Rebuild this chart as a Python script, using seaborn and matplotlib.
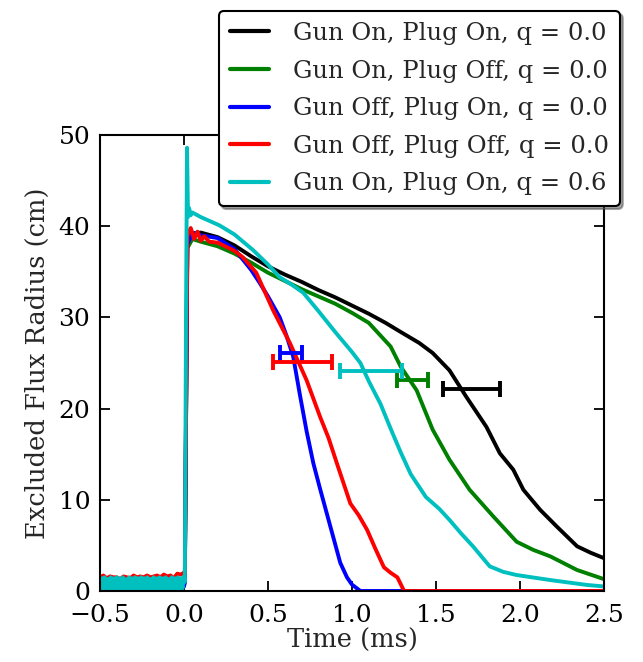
import numpy as np
import pandas as pd
import matplotlib
matplotlib.use("Agg")
import matplotlib.pyplot as plt
import seaborn as sns

# ---------------- data ----------------
labels = ["Gun On, Plug On, q = 0.0", "Gun On, Plug Off, q = 0.0",
          "Gun Off, Plug On, q = 0.0", "Gun Off, Plug Off, q = 0.0",
          "Gun On, Plug On, q = 0.6"]
colors = ["black", "green", "blue", "red", "c"]

# pre-trigger noise (t from -0.5 to 0.0)
pre_black = [0.3, 0.8, 0.2, 0.9, 0.4, 0.7, 0.2, 0.9, 0.5, 0.3, 0.8, 0.4, 0.9, 0.2,
             0.7, 0.3, 0.8, 0.5, 0.2, 0.9, 0.4, 0.7, 0.3, 0.8, 0.5, 0.9]
pre_green = [0.2, 0.6, 0.1, 0.7, 0.3, 0.5, 0.1, 0.6, 0.3, 0.2, 0.7, 0.3, 0.6, 0.1,
             0.5, 0.2, 0.6, 0.4, 0.1, 0.7, 0.3, 0.5, 0.2, 0.6, 0.4, 0.6]
pre_blue = [0.3, 0.7, 0.2, 0.8, 0.4, 0.6, 0.2, 0.8, 0.4, 0.3, 0.7, 0.4, 0.8, 0.2,
            0.6, 0.3, 0.7, 0.5, 0.2, 0.8, 0.3, 0.6, 0.1, 0.6, 0.2, 0.5]
pre_red = [1.5, 1.7, 1.4, 1.6, 1.5, 1.5, 1.3, 1.6, 1.5, 1.4, 1.7, 1.5, 1.6, 1.5,
           1.7, 1.5, 1.6, 1.7, 1.5, 1.8, 1.6, 1.7, 1.4, 1.9, 1.8, 2.0]
pre_cyan = [0.2, 1.4, 0.1, 1.5, 0.2, 1.3, 0.3, 1.5, 0.1, 1.4, 0.3, 1.5, 0.2, 1.4,
            0.2, 1.5, 0.1, 1.3, 0.3, 1.5, 0.2, 1.4, 0.3, 1.5, 0.1, 1.4, 0.3, 1.5,
            0.2, 1.4, 0.3, 1.5, 0.2, 1.3, 0.2, 1.5, 0.1, 1.4, 0.3, 1.5, 0.2, 1.4,
            0.2, 1.5, 0.1, 1.3, 0.3, 1.5, 0.2, 1.4, 0.3, 1.5, 0.1, 1.4, 0.3, 1.6]

# post-trigger curves
t_black = [0.005, 0.02, 0.05, 0.1, 0.2, 0.3, 0.4, 0.5, 0.6, 0.7, 0.8, 0.9, 1.0, 1.1, 1.2,
           1.29, 1.4, 1.48, 1.58, 1.68, 1.8, 1.88, 1.96, 2.02, 2.12, 2.22, 2.34, 2.42, 2.5]
r_black = [1.0, 39.5, 39.2, 39.3, 38.8, 37.9, 36.7, 35.6, 34.7, 33.9, 33.0, 32.2, 31.3, 30.4,
           29.4, 28.4, 27.2, 26.1, 24.2, 21.3, 18.0, 15.1, 13.3, 11.1, 8.9, 7.05, 4.9, 4.2, 3.6]

t_green = [0.005, 0.02, 0.05, 0.1, 0.2, 0.3, 0.4, 0.5, 0.6, 0.7, 0.8, 0.9, 1.0, 1.1, 1.17,
           1.23, 1.29, 1.385, 1.48, 1.58, 1.7, 1.84, 1.98, 2.08, 2.18, 2.34, 2.5]
r_green = [1.0, 37.6, 38.6, 38.3, 37.8, 37.0, 36.0, 34.9, 34.0, 33.1, 32.3, 31.5, 30.5, 29.4,
           28.0, 26.8, 24.6, 22.0, 17.7, 14.4, 11.1, 8.2, 5.4, 4.5, 3.8, 2.3, 1.3]

t_blue = [0.005, 0.02, 0.05, 0.1, 0.2, 0.3, 0.4, 0.45, 0.5, 0.57, 0.61, 0.65, 0.69, 0.73,
          0.77, 0.81, 0.85, 0.89, 0.93, 0.97, 1.0, 1.05, 2.5]
r_blue = [1.0, 38.0, 39.3, 39.0, 38.7, 37.5, 35.2, 33.8, 32.3, 30.0, 28.0, 25.7, 21.5, 17.5,
          14.0, 11.2, 8.5, 5.8, 3.1, 1.5, 0.7, 0.0, 0.0]

t_red = [0.005, 0.02, 0.04, 0.06, 0.08, 0.1, 0.12, 0.15, 0.2, 0.3, 0.35, 0.43, 0.53, 0.63,
         0.73, 0.81, 0.86, 0.91, 0.99, 1.04, 1.09, 1.14, 1.19, 1.23, 1.27, 1.31, 2.5]
r_red = [2.0, 39.0, 39.8, 38.6, 39.4, 38.4, 38.9, 38.3, 38.2, 37.3, 36.6, 34.9, 30.8, 27.2,
         23.1, 19.1, 16.8, 14.0, 9.6, 8.3, 6.7, 4.6, 2.6, 2.0, 1.5, 0.0, 0.0]

t_cyan = [0.005, 0.012, 0.018, 0.024, 0.03, 0.04, 0.05, 0.1, 0.21, 0.3, 0.41, 0.5, 0.57,
          0.64, 0.71, 0.8, 0.9, 1.0, 1.05, 1.1, 1.17, 1.23, 1.29, 1.35, 1.44, 1.52, 1.58,
          1.65, 1.72, 1.82, 1.9, 1.98, 2.18, 2.4, 2.5]
r_cyan = [1.0, 30.0, 48.6, 41.0, 42.0, 41.2, 41.5, 41.0, 40.1, 39.1, 37.4, 35.8, 34.4,
          33.6, 32.7, 30.7, 28.4, 26.2, 25.0, 23.0, 20.5, 17.8, 15.2, 12.8, 10.3, 9.0, 7.8,
          6.3, 4.9, 2.7, 2.1, 1.75, 1.2, 0.66, 0.5]

# error bars (center time, half width, radius)
eb_t = [1.71, 1.36, 0.635, 0.705, 1.115]
eb_err = [0.17, 0.09, 0.065, 0.175, 0.185]
eb_r = [22.1, 23.1, 26.1, 25.1, 24.1]

xticks = [-0.5, 0.0, 0.5, 1.0, 1.5, 2.0, 2.5]
yticks = [0, 10, 20, 30, 40, 50]

# ---------------- build frame ----------------
pre_all = [pre_black, pre_green, pre_blue, pre_red, pre_cyan]
t_all = [t_black, t_green, t_blue, t_red, t_cyan]
r_all = [r_black, r_green, r_blue, r_red, r_cyan]
frames = []
for lab, pre, tt, rr in zip(labels, pre_all, t_all, r_all):
    pt = np.linspace(-0.5, 0.0, len(pre))
    frames.append(pd.DataFrame({"t": np.concatenate([pt, tt]),
                                "r": np.concatenate([pre, rr]),
                                "series": lab}))
df = pd.concat(frames, ignore_index=True)

# ---------------- plot ----------------
sns.set_style("ticks")
plt.rcParams["font.family"] = ["DejaVu Serif"]
plt.rcParams["mathtext.fontset"] = "dejavuserif"

fig = plt.figure(figsize=(6.43, 6.62), dpi=100)
ax = fig.add_axes([100 / 643, 1 - 591 / 662, 504 / 643, 456 / 662])

lw = 2.8
for lab, col in zip(labels, colors):
    sub = df[df["series"] == lab]
    sns.lineplot(data=sub, x="t", y="r", color=col, lw=lw, ax=ax, label=lab,
                 estimator=None, sort=True)

for x, e, y, col in zip(eb_t, eb_err, eb_r, colors):
    ax.errorbar(x, y, xerr=e, color=col, lw=lw, capsize=5.5, capthick=lw, fmt="none")

ax.set_xlim(-0.5, 2.5)
ax.set_ylim(0, 50)
ax.set_xticks(xticks)
ax.set_yticks(yticks)
ax.set_xticklabels([f"{v:.1f}".replace("-", "\u2212") for v in xticks])
ax.tick_params(direction="in", length=7, width=1.3, labelsize=18,
               top=True, right=True, colors="black")
ax.tick_params(axis="x", pad=9)
ax.tick_params(axis="y", pad=7)
for s in ax.spines.values():
    s.set_linewidth(1.5)
    s.set_color("black")
ax.set_xlabel("Time (ms)", fontsize=18.5, labelpad=1)
ax.set_ylabel("Excluded Flux Radius (cm)", fontsize=18.5, labelpad=6)

ax.get_legend().remove()
handles, labs = ax.get_legend_handles_labels()
leg = fig.legend(handles, labs, loc="upper right",
                 bbox_to_anchor=(620 / 643, 1 - 11 / 662),
                 prop={"family": "DejaVu Serif", "size": 17.5},
                 frameon=True, fancybox=True, shadow=True,
                 handlelength=1.6, handletextpad=1.0, labelspacing=0.6,
                 borderpad=0.45, borderaxespad=0.0)
leg.get_frame().set_edgecolor("black")
leg.get_frame().set_linewidth(1.5)
leg.get_frame().set_alpha(1)
for h in leg.get_lines():
    h.set_linewidth(3)

fig.savefig("out.png", dpi=100)
